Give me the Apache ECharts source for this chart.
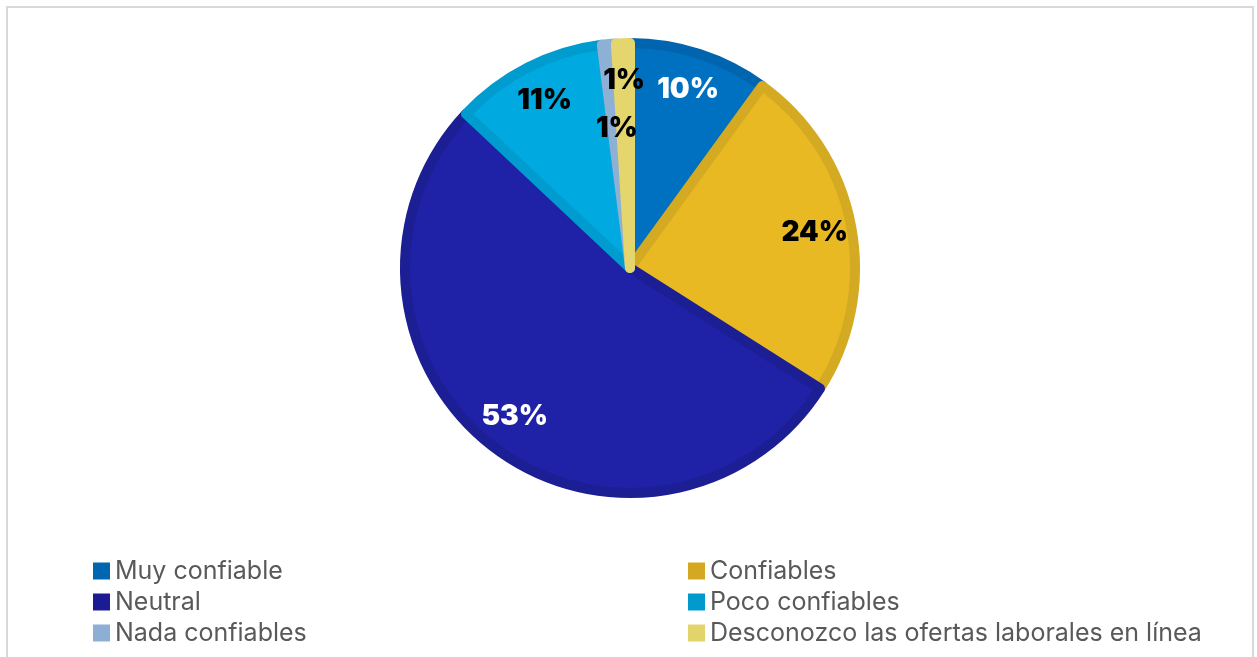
<!DOCTYPE html>
<html>
<head>
<meta charset="utf-8">
<title>Confianza en las ofertas laborales en línea</title>
<script src="https://cdn.jsdelivr.net/npm/echarts@6/dist/echarts.min.js"></script>
<style>
  html, body { margin: 0; padding: 0; background: #ffffff; }
  #chart { width: 1257px; height: 657px; }
</style>
</head>
<body>
<div id="chart"></div>
<script>
// Categories and their shares (percent of responses)
const categories = [
  'Muy confiable',
  'Confiables',
  'Neutral',
  'Poco confiables',
  'Nada confiables',
  'Desconozco las ofertas laborales en línea'
];
const shares = [10, 24, 53, 11, 1, 1];

// Slice fill, slice edge and label colours, in category order
const fillColors   = ['#0070C0', '#E8B923', '#1F21A6', '#00A9E0', '#8EB0D4', '#E5D56D'];
const edgeColors   = ['#0064AE', '#D4AA22', '#1C1E94', '#009BCF', '#8EB0D4', '#E5D56D'];
const legendColors = ['#0066B0', '#D4A820', '#1B1C93', '#009ACD', '#8DAFD3', '#E2D46B'];
const labelColors  = ['#ffffff', '#000000', '#ffffff', '#000000', '#000000', '#000000'];

const CENTER = [630, 268];
const OUTER = 230;
const EDGE = 10;

const labelFont = {
  fontFamily: 'Inter',
  fontWeight: 900,
  fontSize: 28
};

function sliceData() {
  return categories.map((name, i) => ({
    name,
    value: shares[i],
    itemStyle: { color: fillColors[i], borderColor: edgeColors[i] }
  }));
}

// Transparent ring used only to place the percentage labels at a given radius
function labelRing(id, radius, showIndex) {
  return {
    id,
    type: 'pie',
    center: CENTER,
    radius,
    startAngle: 90,
    silent: true,
    animation: false,
    z: 5,
    labelLine: { show: false },
    itemStyle: { color: 'rgba(0,0,0,0)', borderWidth: 0 },
    emphasis: { disabled: true },
    data: categories.map((name, i) => ({
      name,
      value: shares[i],
      label: {
        show: showIndex(i),
        position: 'inside',
        formatter: '{c}%',
        color: labelColors[i],
        ...labelFont
      }
    }))
  };
}

const legendBase = {
  orient: 'vertical',
  icon: 'rect',
  padding: 0,
  itemWidth: 17,
  itemHeight: 17,
  itemGap: 5,
  selectedMode: false,
  itemStyle: { borderWidth: 0 },
  textStyle: {
    fontFamily: 'Inter',
    fontSize: 25,
    lineHeight: 26,
    color: '#595959'
  }
};

const option = {
  backgroundColor: '#ffffff',
  animation: false,
  graphic: [{
    type: 'rect',
    shape: { x: 7, y: 7, width: 1246, height: 700 },
    style: { fill: 'none', stroke: '#D9D9D9', lineWidth: 2 },
    silent: true
  }],
  legend: [
    Object.assign({}, legendBase, {
      left: 93,
      top: 558,
      data: [0, 2, 4].map(i => ({ name: categories[i], itemStyle: { color: legendColors[i] } }))
    }),
    Object.assign({}, legendBase, {
      left: 688,
      top: 558,
      data: [1, 3, 5].map(i => ({ name: categories[i], itemStyle: { color: legendColors[i] } }))
    })
  ],
  series: [
    {
      id: 'slices',
      type: 'pie',
      center: CENTER,
      radius: [0, OUTER - EDGE / 2],
      startAngle: 90,
      label: { show: false },
      labelLine: { show: false },
      emphasis: { disabled: true },
      itemStyle: { borderWidth: EDGE },
      data: sliceData()
    },
    labelRing('labelsOuter', [140, OUTER], i => i !== 4),
    labelRing('labelsInner', [100, 174], i => i === 4)
  ]
};

const chart = echarts.init(document.getElementById('chart'), null, { renderer: 'canvas' });
chart.setOption(option);
</script>
</body>
</html>
